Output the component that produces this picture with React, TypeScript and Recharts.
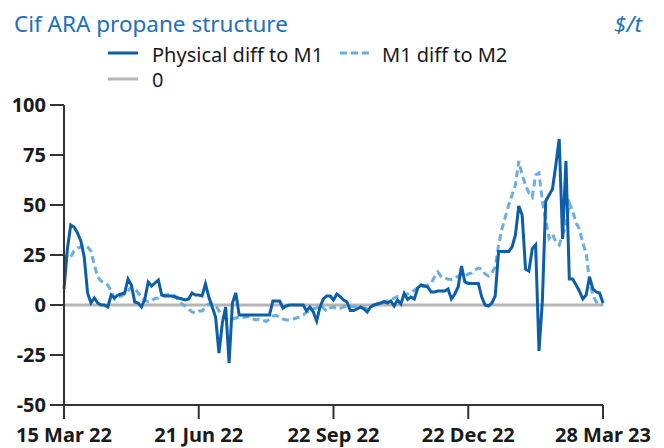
import React from "react";
import { LineChart, Line, XAxis, YAxis, ReferenceLine } from "recharts";

// tick labels on the x axis, one every 40 points
const xTickLabels = ["15 Mar 22", "21 Jun 22", "22 Sep 22", "22 Dec 22", "28 Mar 23"];
const yTicks = [-50, -25, 0, 25, 50, 75, 100];

// Physical diff to M1, $/t
const physicalDiff = [
  8, 28, 40, 39, 36, 32, 24, 6, 1, 3.5,
  1, 0, 0, -1, 5, 3.5, 5, 5.5, 6, 13,
  10, 1.5, 1, -1, 3, 11.5, 9.5, 11, 12.5, 5,
  4.5, 4.5, 4.5, 4, 3.5, 3, 2.5, 3, 6, 5,
  5, 4.5, 10.5, 4, -1, -6, -24, -9, -1, -29,
  1, 6, -5, -5, -5, -5, -5, -5, -5, -5,
  -5, -5, 2, 2, 2, -1.5, -0.5, 0, 0, 0,
  0, 0, -3, -1, -3.5, -8, -1, 3, 4.5, 4.5,
  2.5, 5.5, 4.2, 2.5, 1.5, -2.8, -2.8, -2, -1, -2,
  -3.5, -1, 0, 0.5, 1, 1.7, 1, 2, -0.5, 2.5,
  0.5, 5.8, 2.8, 4, 3, 8.5, 10, 9.5, 9, 6.5,
  6.5, 7, 7, 7, 8, 3, 5.5, 9, 19.5, 11.5,
  10.8, 10.8, 10.8, 10.8, 4, 0, -0.5, 1, 4.5, 26.7,
  26.7, 26.7, 26.7, 29, 35, 49.5, 45, 18, 17, 28,
  30, -23, 2, 52, 55, 58, 70, 83, 33, 72,
  13, 13, 10, 7, 3, 5, 14, 8, 6.5, 6,
  1,
];

// M1 diff to M2, $/t
const m1m2Diff = [
  22, 25, 24, 27, 28.5, 29, 30, 29, 27, 20,
  14, 12, 11, 10, 7, 3, 4, 4.5, 5.5, 7,
  9, 8.5, 6, 4, 2.5, 1.5, 2, 3.3, 3.5, 4,
  5, 5.3, 5, 4.5, 2, 0.5, -0.5, -2, -3.5, -4,
  -3, -3, -1, 0.5, 0.5, 0, -3, -5, -6.7, -7.5,
  -7, -6.5, -6, -6.3, -6, -5.8, -7, -7.5, -7, -7.5,
  -8.3, -7, -5.5, -5.3, -6, -7, -7.5, -7.5, -7, -6.5,
  -6, -5, -3.5, -3, -2, -1.5, 0, -1.5, -3, -1.5,
  -1, -2, -1.7, -1, -0.5, -0.5, -0.8, -0.8, -1, -1.5,
  -1.7, -1, 0, 0.5, 1, 1.2, 2, 2.5, 3.5, 4.2,
  4.2, 5, 5.5, 6.2, 7.5, 8.5, 9, 9.5, 10, 11,
  14, 16.5, 14.2, 13.3, 13, 12.8, 13.3, 14.5, 15, 14.5,
  15.5, 16, 17.5, 18.5, 18, 15.5, 14.5, 16, 19, 30,
  38, 44, 50, 55, 60, 72, 65, 60, 56, 54,
  65, 66, 52, 42.5, 33.3, 35.5, 31.5, 30, 35, 40,
  51, 47, 41, 38, 31, 26, 12, 5, 1.5, 1.5,
  0,
];

const data = physicalDiff.map((v, i) => ({ i, physical: v, m1m2: m1m2Diff[i] }));

const BLUE = "#0c5ea9";
const LIGHT = "#6caee0";
const GREY = "#b5b5b5";
const AXIS = "#333333";
const FONT = "'Noto Sans', 'Open Sans', sans-serif";

export default function App() {
  const tickStyle = { fontSize: 20, fontWeight: 700, fill: "#1a1a1a", fontFamily: FONT };
  return (
    <div style={{ position: "absolute", left: 0, top: 0, width: 664, height: 448 }}>
      <LineChart
        width={664}
        height={448}
        data={data}
        margin={{ top: 105, right: 61, bottom: 13, left: 4 }}
      >
        <XAxis
          dataKey="i"
          type="number"
          domain={[0, 160]}
          ticks={[0, 40, 80, 120, 160]}
          tickFormatter={(v: number) => xTickLabels[v / 40]}
          interval={0}
          height={30}
          tickSize={14}
          tickMargin={9}
          tick={tickStyle}
          axisLine={{ stroke: AXIS, strokeWidth: 2 }}
          tickLine={{ stroke: AXIS, strokeWidth: 2 }}
        />
        <YAxis
          type="number"
          domain={[-50, 100]}
          ticks={yTicks}
          interval={0}
          width={60}
          tickSize={14}
          tickMargin={4}
          tick={tickStyle}
          axisLine={{ stroke: AXIS, strokeWidth: 2 }}
          tickLine={{ stroke: AXIS, strokeWidth: 2 }}
        />
        <ReferenceLine y={0} stroke={GREY} strokeWidth={3} />
        <Line
          type="linear"
          dataKey="m1m2"
          stroke={LIGHT}
          strokeWidth={3}
          strokeDasharray="7 4"
          dot={false}
          isAnimationActive={false}
        />
        <Line
          type="linear"
          dataKey="physical"
          stroke={BLUE}
          strokeWidth={3}
          dot={false}
          isAnimationActive={false}
        />
      </LineChart>
      <svg
        width={664}
        height={448}
        style={{ position: "absolute", left: 0, top: 0, pointerEvents: "none" }}
        fontFamily={FONT}
      >
        <text x={14} y={32} fontSize={22.5} fill="#2170b8">
          Cif ARA propane structure
        </text>
        <text x={642} y={32} fontSize={22.5} fill="#2170b8" fontStyle="italic" textAnchor="end">
          $/t
        </text>
        <line x1={108} x2={138} y1={53} y2={53} stroke={BLUE} strokeWidth={3} />
        <text x={152} y={62} fontSize={20} fill="#1a1a1a">
          Physical diff to M1
        </text>
        <line x1={340} x2={372} y1={53} y2={53} stroke={LIGHT} strokeWidth={3} strokeDasharray="7 4" />
        <text x={382} y={62} fontSize={20} fill="#1a1a1a">
          M1 diff to M2
        </text>
        <line x1={108} x2={138} y1={79} y2={79} stroke={GREY} strokeWidth={3} />
        <text x={152} y={87} fontSize={20} fill="#1a1a1a">
          0
        </text>
      </svg>
    </div>
  );
}
